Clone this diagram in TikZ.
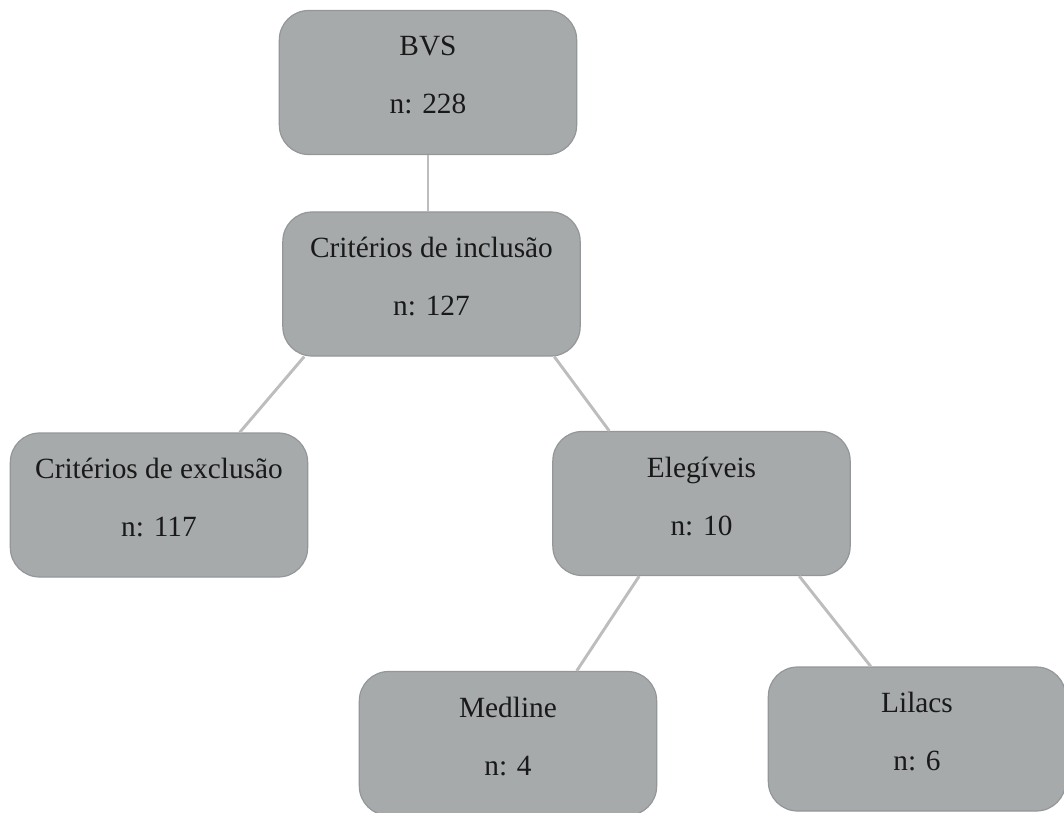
\documentclass[tikz,border=0pt]{standalone}
\usepackage{fontspec}
\setmainfont{Liberation Serif}
\usetikzlibrary{calc}
\definecolor{boxfill}{HTML}{A7AAAB}
\definecolor{boxline}{HTML}{94979A}
\definecolor{linkgray}{HTML}{BDBDBD}
\begin{document}
\begin{tikzpicture}[x=0.75pt,y=0.75pt,yscale=-1,
    box/.style={draw=boxline, fill=boxfill, line width=0.9pt, rounded corners=22pt,
        minimum width=223pt, minimum height=108pt, align=center, text=black!90,
        text depth=11pt, font=\fontsize{22}{43.5}\selectfont},
    link/.style={draw=linkgray, line width=2.2pt}]
        \useasboundingbox (0,0) rectangle (1064,813);
        
        % Boxes
        \node [box] (bvs) at (428,82.5) {BVS\\n: 228};
        \node [box] (incl) at (431.5,284) {Critérios de inclusão\\n: 127};
        \node [box] (excl) at (159,505) {Critérios de exclusão\\n: 117};
        \node [box] (eleg) at (701.5,503.5) {Elegíveis\\n: 10};
        \node [box] (med) at (508,743.5) {Medline\\n: 4};
        \node [box] (lil) at (917,739) {Lilacs\\n: 6};
        
        % Connectors
        \draw [link] (bvs.south) -- (bvs.south |- incl.north);
        \draw [link] ($(incl.south west)+(22,0)$) -- ($(excl.north west)+(230,0)$);
        \draw [link] ($(incl.south west)+(272,0)$) -- ($(eleg.north west)+(57,0)$);
        \draw [link] ($(eleg.south west)+(87,0)$) -- ($(med.north west)+(218,0)$);
        \draw [link] ($(eleg.south west)+(247,0)$) -- ($(lil.north west)+(103,0)$);
        
\end{tikzpicture}
\end{document}
